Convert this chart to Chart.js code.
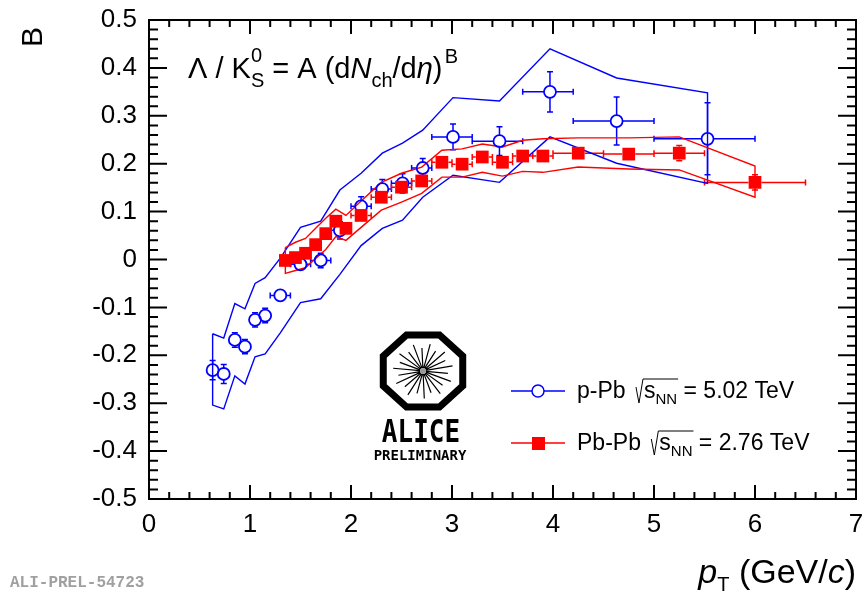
<!DOCTYPE html>
<html>
<head>
<meta charset="utf-8">
<script src="https://cdn.jsdelivr.net/npm/chart.js@4.4.1/dist/chart.umd.min.js"></script>
<style>
  html, body { margin: 0; padding: 0; background: #fff; }
  canvas { display: block; }
</style>
</head>
<body>
<canvas id="chart" width="866" height="593"></canvas>
<script>
// p-Pb 5.02 TeV (open blue circles)
const pPbPt    = [0.63, 0.74, 0.85, 0.95, 1.05, 1.15, 1.30, 1.50, 1.70, 1.89, 2.10, 2.31, 2.51, 2.71, 3.01, 3.47, 3.97, 4.63, 5.53];
const pPbB     = [-0.231, -0.239, -0.168, -0.182, -0.126, -0.117, -0.075, -0.010, -0.002, 0.061, 0.111, 0.147, 0.159, 0.191, 0.256, 0.247, 0.350, 0.289, 0.252];
const pPbStat  = [0.02, 0.02, 0.015, 0.015, 0.015, 0.015, 0.012, 0.012, 0.015, 0.018, 0.02, 0.02, 0.02, 0.02, 0.027, 0.03, 0.042, 0.05, 0.075];
const pPbBinLo = [0.58, 0.69, 0.80, 0.90, 1.00, 1.10, 1.2, 1.4, 1.6, 1.8, 2.0, 2.2, 2.4, 2.6, 2.8, 3.2, 3.7, 4.2, 5.0];
const pPbBinHi = [0.68, 0.79, 0.90, 1.00, 1.10, 1.20, 1.4, 1.6, 1.8, 2.0, 2.2, 2.4, 2.6, 2.8, 3.2, 3.7, 4.2, 5.0, 6.0];
const pPbSysHi = [-0.155, -0.164, -0.092, -0.103, -0.050, -0.038, 0.003, 0.067, 0.080, 0.145, 0.180, 0.222, 0.243, 0.270, 0.338, 0.331, 0.440, 0.379, 0.348];
const pPbSysLo = [-0.304, -0.312, -0.243, -0.260, -0.203, -0.197, -0.153, -0.090, -0.082, -0.031, 0.029, 0.065, 0.082, 0.130, 0.176, 0.161, 0.256, 0.201, 0.159];

// Pb-Pb 2.76 TeV (full red squares)
const PbPbPt    = [1.35, 1.45, 1.55, 1.65, 1.75, 1.85, 1.95, 2.1, 2.3, 2.5, 2.7, 2.9, 3.1, 3.3, 3.5, 3.7, 3.9, 4.25, 4.75, 5.25, 6.0];
const PbPbB     = [-0.002, 0.004, 0.013, 0.031, 0.054, 0.080, 0.065, 0.092, 0.130, 0.151, 0.164, 0.203, 0.199, 0.214, 0.203, 0.216, 0.216, 0.222, 0.220, 0.222, 0.161];
const PbPbStat  = [0.008, 0.008, 0.008, 0.008, 0.008, 0.008, 0.008, 0.008, 0.008, 0.008, 0.008, 0.008, 0.008, 0.008, 0.008, 0.008, 0.008, 0.008, 0.01, 0.016, 0.016];
const PbPbBinLo = [1.3, 1.4, 1.5, 1.6, 1.7, 1.8, 1.9, 2.0, 2.2, 2.4, 2.6, 2.8, 3.0, 3.2, 3.4, 3.6, 3.8, 4.0, 4.5, 5.0, 5.5];
const PbPbBinHi = [1.4, 1.5, 1.6, 1.7, 1.8, 1.9, 2.0, 2.2, 2.4, 2.6, 2.8, 3.0, 3.2, 3.4, 3.6, 3.8, 4.0, 4.5, 5.0, 5.5, 6.5];
const PbPbSysHi = [0.025, 0.036, 0.044, 0.065, 0.086, 0.105, 0.092, 0.122, 0.161, 0.180, 0.193, 0.228, 0.231, 0.241, 0.235, 0.249, 0.252, 0.254, 0.254, 0.256, 0.195];
const PbPbSysLo = [-0.029, -0.023, -0.017, 0.002, 0.021, 0.048, 0.040, 0.067, 0.103, 0.120, 0.138, 0.172, 0.172, 0.182, 0.174, 0.184, 0.182, 0.193, 0.189, 0.187, 0.130];

// axes
const xTicks = [0, 1, 2, 3, 4, 5, 6, 7];
const yTicks = [-0.5, -0.4, -0.3, -0.2, -0.1, 0, 0.1, 0.2, 0.3, 0.4, 0.5];

const FONT = '"Liberation Sans", Arial, Helvetica, sans-serif';
const MONO = '"Liberation Mono", "Courier New", monospace';
const BLUE = '#0000ff';
const RED = '#ff0000';

const points = (xs, ys) => xs.map((x, i) => ({ x: x, y: ys[i] }));
// closed outline of a systematic band: upper edge, then lower edge back
const band = (xs, hi, lo) => {
  const up = xs.map((x, i) => ({ x: x, y: hi[i] }));
  const dn = xs.map((x, i) => ({ x: x, y: lo[i] })).reverse();
  return up.concat(dn, [up[0]]);
};

// draws runs of text with sub/superscripts, returns end x
function rich(ctx, x, y, runs, dry) {
  let cx = x;
  runs.forEach(r => {
    ctx.font = (r.i ? 'italic ' : '') + r.s + 'px ' + FONT;
    if (!dry) ctx.fillText(r.t, cx, y + (r.dy || 0));
    if (!r.stay) cx += ctx.measureText(r.t).width;
  });
  return cx;
}

function errorBars(chart, xs, ys, lo, hi, err, gap, color) {
  const ctx = chart.ctx, sx = chart.scales.x, sy = chart.scales.y;
  const cap = 3;
  ctx.save();
  ctx.strokeStyle = color;
  ctx.lineWidth = 1.5;
  ctx.beginPath();
  xs.forEach((x, i) => {
    const px = sx.getPixelForValue(x), py = sy.getPixelForValue(ys[i]);
    const xl = sx.getPixelForValue(lo[i]), xr = sx.getPixelForValue(hi[i]);
    const yt = sy.getPixelForValue(ys[i] + err[i]), yb = sy.getPixelForValue(ys[i] - err[i]);
    if (px - xl > gap) {
      ctx.moveTo(xl, py); ctx.lineTo(px - gap, py);
      ctx.moveTo(xl, py - cap); ctx.lineTo(xl, py + cap);
    }
    if (xr - px > gap) {
      ctx.moveTo(px + gap, py); ctx.lineTo(xr, py);
      ctx.moveTo(xr, py - cap); ctx.lineTo(xr, py + cap);
    }
    if (py - yt > gap) {
      ctx.moveTo(px, py - gap); ctx.lineTo(px, yt);
      ctx.moveTo(px - cap, yt); ctx.lineTo(px + cap, yt);
    }
    if (yb - py > gap) {
      ctx.moveTo(px, py + gap); ctx.lineTo(px, yb);
      ctx.moveTo(px - cap, yb); ctx.lineTo(px + cap, yb);
    }
  });
  ctx.stroke();
  ctx.restore();
}

function sqrtLabel(ctx, x, y, pre, post) {
  let cx = rich(ctx, x, y, [{ t: pre, s: 23 }]) + 4;
  const start = cx;
  const end = rich(ctx, cx + 8, y, [{ t: 's', s: 23 }, { t: 'NN', s: 15, dy: 6 }]);
  ctx.beginPath();
  ctx.moveTo(start, y - 11);
  ctx.lineTo(start + 3, y + 5);
  ctx.lineTo(start + 7, y - 19);
  ctx.lineTo(end + 1, y - 19);
  ctx.lineWidth = 1;
  ctx.stroke();
  rich(ctx, end, y, [{ t: post, s: 23 }]);
}

function aliceLogo(ctx, cx, cy) {
  ctx.save();
  ctx.strokeStyle = '#000';
  ctx.lineWidth = 7;
  ctx.beginPath();
  for (let k = 0; k < 8; k++) {
    const a = Math.PI / 8 + k * Math.PI / 4;
    ctx.lineTo(cx + 43 * Math.cos(a), cy + 39 * Math.sin(a));
  }
  ctx.closePath();
  ctx.stroke();
  ctx.lineWidth = 1.2;
  ctx.beginPath();
  for (let k = 0; k < 22; k++) {
    const a = k * 2 * Math.PI / 22 + 0.1;
    const r = k % 2 ? 30 : 25;
    ctx.moveTo(cx + 3 * Math.cos(a), cy + 3 * Math.sin(a));
    ctx.lineTo(cx + r * Math.cos(a), cy + r * 0.92 * Math.sin(a));
  }
  ctx.stroke();
  ctx.fillStyle = '#999';
  ctx.beginPath();
  ctx.arc(cx, cy, 3, 0, 2 * Math.PI);
  ctx.fill();
  ctx.fillStyle = '#000';
  ctx.textAlign = 'center';
  ctx.save();
  ctx.translate(cx - 2, cy + 71);
  ctx.scale(1, 1.2);
  ctx.font = 'bold 26px "DejaVu Sans Mono", ' + MONO;
  ctx.fillText('ALICE', 0, 0);
  ctx.restore();
  ctx.font = 'bold 14px "DejaVu Sans Mono", ' + MONO;
  ctx.fillText('PRELIMINARY', cx - 3, cy + 89);
  ctx.restore();
}

const rootStyle = {
  id: 'rootStyle',
  beforeDatasetsDraw(chart) {
    errorBars(chart, pPbPt, pPbB, pPbBinLo, pPbBinHi, pPbStat, 6, BLUE);
    errorBars(chart, PbPbPt, PbPbB, PbPbBinLo, PbPbBinHi, PbPbStat, 6.5, RED);
  },
  afterDraw(chart) {
    const ctx = chart.ctx, sx = chart.scales.x, sy = chart.scales.y;
    const a = chart.chartArea;
    ctx.save();
    // frame
    ctx.strokeStyle = '#000';
    ctx.lineWidth = 2;
    ctx.strokeRect(a.left, a.top, a.right - a.left, a.bottom - a.top);
    // ticks on all four sides, pointing inside
    ctx.beginPath();
    for (let k = 0; k <= 35; k++) {
      const px = sx.getPixelForValue(k * 0.2);
      const len = k % 5 === 0 ? 14 : 7;
      ctx.moveTo(px, a.bottom); ctx.lineTo(px, a.bottom - len);
      ctx.moveTo(px, a.top); ctx.lineTo(px, a.top + len);
    }
    for (let k = 0; k <= 50; k++) {
      const py = sy.getPixelForValue(-0.5 + k * 0.02);
      const len = k % 5 === 0 ? 18 : 9;
      ctx.moveTo(a.left, py); ctx.lineTo(a.left + len, py);
      ctx.moveTo(a.right, py); ctx.lineTo(a.right - len, py);
    }
    ctx.stroke();

    ctx.fillStyle = '#000';
    ctx.textBaseline = 'alphabetic';
    ctx.textAlign = 'left';

    // formula
    rich(ctx, 188, 78, [
      { t: '\u039B / K', s: 29 },
      { t: '0', s: 20, dy: -16, stay: true },
      { t: 'S', s: 20, dy: 9 },
      { t: ' = A (d', s: 29 },
      { t: 'N', s: 29, i: 1 },
      { t: 'ch', s: 20, dy: 9 },
      { t: '/d', s: 29 },
      { t: '\u03B7', s: 29, i: 1 },
      { t: ')', s: 29 },
      { t: ' ', s: 8 },
      { t: 'B', s: 20, dy: -15 }
    ]);

    // axis titles
    const xt = [
      { t: 'p', s: 34, i: 1 },
      { t: 'T', s: 20, dy: 8 },
      { t: ' (GeV/', s: 34 },
      { t: 'c', s: 34, i: 1 },
      { t: ')', s: 34 }
    ];
    const w = rich(ctx, 0, 0, xt, true);
    rich(ctx, a.right - w, 583, xt);

    ctx.save();
    ctx.translate(42, 37);
    ctx.rotate(-Math.PI / 2);
    ctx.textAlign = 'center';
    ctx.font = '30px ' + FONT;
    ctx.fillText('B', 0, 0);
    ctx.restore();

    // legend
    ctx.lineWidth = 1.5;
    ctx.strokeStyle = BLUE;
    ctx.beginPath(); ctx.moveTo(511, 391); ctx.lineTo(565, 391); ctx.stroke();
    ctx.fillStyle = '#fff';
    ctx.beginPath(); ctx.arc(538, 391, 6, 0, 2 * Math.PI); ctx.fill(); ctx.stroke();
    ctx.strokeStyle = RED;
    ctx.beginPath(); ctx.moveTo(511, 443); ctx.lineTo(565, 443); ctx.stroke();
    ctx.fillStyle = RED;
    ctx.fillRect(532, 437, 13, 13);
    ctx.fillStyle = '#000';
    ctx.strokeStyle = '#000';
    sqrtLabel(ctx, 577, 398, 'p-Pb ', ' = 5.02 TeV');
    sqrtLabel(ctx, 577, 450, 'Pb-Pb ', ' = 2.76 TeV');

    aliceLogo(ctx, 423, 371);

    ctx.fillStyle = '#a0a0a0';
    ctx.font = 'bold 16px ' + MONO;
    ctx.textAlign = 'left';
    ctx.fillText('ALI-PREL-54723', 10, 587);
    ctx.restore();
  }
};

new Chart(document.getElementById('chart'), {
  type: 'scatter',
  data: {
    datasets: [
      {
        label: 'Pb-Pb',
        data: points(PbPbPt, PbPbB),
        pointStyle: 'rect',
        pointRadius: 9,
        pointHoverRadius: 9,
        backgroundColor: RED,
        borderWidth: 0,
        order: 0
      },
      {
        label: 'p-Pb',
        data: points(pPbPt, pPbB),
        pointStyle: 'circle',
        pointRadius: 6,
        pointHoverRadius: 6,
        borderColor: BLUE,
        borderWidth: 1.8,
        backgroundColor: 'rgba(0,0,0,0)',
        order: 1
      },
      {
        label: 'Pb-Pb syst',
        data: band(PbPbPt, PbPbSysHi, PbPbSysLo),
        showLine: true,
        pointRadius: 0,
        pointHoverRadius: 0,
        borderColor: RED,
        borderWidth: 1.4,
        tension: 0,
        order: 2
      },
      {
        label: 'p-Pb syst',
        data: band(pPbPt, pPbSysHi, pPbSysLo),
        showLine: true,
        pointRadius: 0,
        pointHoverRadius: 0,
        borderColor: BLUE,
        borderWidth: 1.4,
        tension: 0,
        order: 3
      }
    ]
  },
  options: {
    responsive: false,
    animation: false,
    layout: { padding: { top: 20, right: 10, left: 0, bottom: 0 } },
    plugins: { legend: { display: false }, tooltip: { enabled: false } },
    scales: {
      x: {
        type: 'linear',
        min: 0,
        max: 7,
        afterBuildTicks: s => { s.ticks = xTicks.map(v => ({ value: v })); },
        afterFit: s => { s.height = 94; s.paddingLeft = 0; s.paddingRight = 0; },
        grid: { display: false, drawTicks: false },
        border: { display: false },
        ticks: { color: '#000', padding: 10, font: { family: FONT, size: 26 }, callback: v => String(v) }
      },
      y: {
        type: 'linear',
        min: -0.5,
        max: 0.5,
        afterBuildTicks: s => { s.ticks = yTicks.map(v => ({ value: v })); },
        afterFit: s => { s.width = 149; s.paddingTop = 0; s.paddingBottom = 0; },
        grid: { display: false, drawTicks: false },
        border: { display: false },
        ticks: { color: '#000', padding: 12, font: { family: FONT, size: 26 }, callback: v => String(Math.round(v * 10) / 10) }
      }
    }
  },
  plugins: [rootStyle]
});
</script>
</body>
</html>
